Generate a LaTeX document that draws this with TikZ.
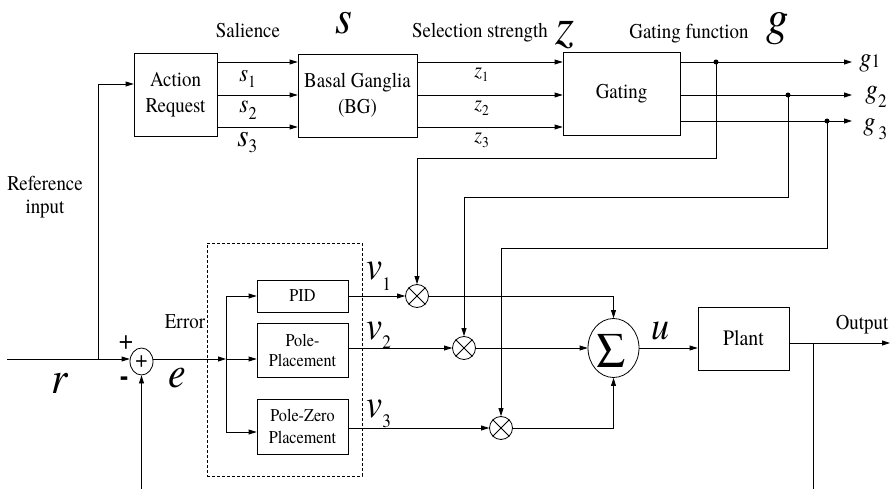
\documentclass[tikz,border=0pt]{standalone}
\usepackage{fontspec}
\usepackage{graphicx}
\setmainfont{texgyretermes}[Extension=.otf, UprightFont=*-regular,
  ItalicFont=*-italic, BoldFont=*-bold, BoldItalicFont=*-bolditalic,
  FakeStretch=0.9]
\usetikzlibrary{arrows.meta,shapes.geometric}

% font size helper: size in pt, baselineskip in pt
\newcommand\fsz[2]{\fontsize{#1}{#2}\selectfont}
% italic letter with a lowered subscript: letter size, letter, subscript size, subscript, drop
\newcommand\ml[5]{{\fsz{#1}{#1}\itshape #2}{\fsz{#3}{#3}\raisebox{-#5pt}{#4}}}

\tikzset{
  blk/.style={draw, inner sep=0pt, align=center, font=\fsz{21}{26}},
  smallblk/.style={blk, font=\fsz{18}{20}},
  mult/.style={circle, draw, minimum size=23pt, inner sep=0pt},
  txt/.style={inner sep=0pt, align=center, font=\fsz{21}{24}},
  big/.style={inner sep=0pt, anchor=base},
  lbl/.style={inner sep=0pt, anchor=base west},
  dot/.style={circle, fill, inner sep=0pt, minimum size=5pt},
}

\begin{document}
\begin{tikzpicture}[x=1pt, y=-1pt, line width=0.8pt,
    >={Triangle[length=8pt,width=5pt]}]
\useasboundingbox (0,0) rectangle (895,489);

% ---------------- upper chain: action selection ----------------
\node[blk, minimum width=83pt, minimum height=83pt] (ar) at (175.5,94.5) {Action\\Request};
\node[blk, minimum width=119pt, minimum height=83pt] (bg) at (357.5,95.5) {Basal Ganglia\\(BG)};
\node[blk, minimum width=117pt, minimum height=83pt] (gt) at (621.5,93.5) {Gating};

\coordinate (ya) at (0,62);
\coordinate (yb) at (0,95);
\coordinate (yc) at (0,127);
\coordinate (yg) at (0,121);
\coordinate (gend) at (852,0);

\draw[->] (ar.east |- ya) -- (bg.west |- ya);
\draw[->] (ar.east |- yb) -- (bg.west |- yb);
\draw[->] (ar.east |- yc) -- (bg.west |- yc);
\draw[->] (bg.east |- ya) -- (gt.west |- ya);
\draw[->] (bg.east |- yb) -- (gt.west |- yb);
\draw[->] (bg.east |- yc) -- (gt.west |- yc);
\draw[->] (gt.east |- ya) -- (gend |- ya);
\draw[->] (gt.east |- yb) -- (gend |- yb);
\draw[->] (gt.east |- yg) -- (gend |- yg);

% headings
\node[txt, anchor=base] (tsal) at (248,38) {Salience};
\node[big, font=\fsz{48}{48}\itshape] (ts) at (344,34) {s};
\node[txt, anchor=base] (tsel) at (480,38) {Selection strength};
\node[big, font=\fsz{54}{54}\itshape] (tz) at (565,45) {z};
\node[txt, anchor=base] (tgf) at (689,39) {Gating function};
\node[big, font=\fsz{50}{50}\itshape] (tg) at (778,35) {g};

% signal labels
\node[lbl] (ls1) at (239,82) {\ml{25}{s}{17}{1}{6}};
\node[lbl] (ls2) at (239,113) {\ml{26}{s}{18}{2}{7}};
\node[lbl] (ls3) at (237,147) {\ml{32}{s}{19}{3}{6}};
\node[lbl] (lz1) at (474,78) {\ml{22}{z}{14}{1}{4}};
\node[lbl] (lz2) at (474,111) {\ml{22}{z}{15}{2}{5}};
\node[lbl] (lz3) at (474,143) {\ml{22}{z}{15}{3}{5}};
\node[lbl] (lg1) at (859,67) {\ml{27}{g}{19}{1}{1}};
\node[lbl] (lg2) at (865,99) {\ml{28}{g}{19}{2}{9}};
\node[lbl] (lg3) at (863,131) {\ml{27}{g}{19}{\,3}{9}};

% ---------------- lower loop: control ----------------
\node[txt, font=\fsz{21}{23}] (tref) at (45,197) {Reference\\input};

\node[ellipse, draw, minimum width=23pt, minimum height=27pt, inner sep=0pt,
      font=\fsz{24}{24}] (sj) at (141.5,361.5) {+};
\coordinate (rin) at (7,359);
\coordinate (rbr) at (98,359);
\coordinate (ry) at (0,84);
\draw[->] (rin) -- (sj.west |- rin);
\draw[->] (rbr) |- (ar.west |- ry);
\coordinate (fbl) at (141.5,489);
\draw[->] (fbl) -- (sj.south);

\node[big, font=\fsz{46}{46}\itshape] (tr) at (60,393) {r};
\node[txt, font=\fsz{28}{28}] (tplus) at (126,343) {+};
\node[txt, font=\fsz{30}{30}\bfseries] (tminus) at (124,381) {-};
\node[big, font=\fsz{44}{44}\itshape] (te) at (177,388) {e};
\node[txt, anchor=base] (terr) at (185,328) {Error};

% controller bank
\node[draw, dash pattern=on 3pt off 2pt, line width=0.6pt, minimum width=155pt,
      minimum height=233pt, inner sep=0pt] (ctrl) at (284.5,359.5) {};
\node[smallblk, minimum width=91pt, minimum height=32pt] (pid) at (302.5,296) {PID};
\node[smallblk, minimum width=91pt, minimum height=54pt] (pp) at (302.5,350) {Pole-\\Placement};
\node[smallblk, font=\fsz{18}{22}, minimum width=91pt, minimum height=55pt] (pz) at (302.5,426.5) {Pole-Zero\\Placement};

\coordinate (eb) at (226,359);
\coordinate (ypz) at (0,432);
\draw[->] (sj.east |- eb) -- (eb);
\draw[->] (eb) |- (pid.west);
\draw[->] (eb) -- (pp.west |- eb);
\draw[->] (eb) |- (pz.west |- ypz);

% gating multipliers
\node[mult] (m1) at (417,296) {};
\node[mult] (m2) at (464,348) {};
\node[mult] (m3) at (501,428) {};
\foreach \m in {m1,m2,m3}{
  \draw (\m.north east) -- (\m.south west) (\m.north west) -- (\m.south east);
}

\draw[->] (pid.east) -- (m1.west);
\draw[->] (pp.east |- m2) -- (m2.west);
\draw[->] (pz.east |- m3) -- (m3.west);

\node[lbl] (lv1) at (366,280) {\ml{40}{v}{19}{1}{10}};
\node[lbl] (lv2) at (366,340) {\ml{40}{v}{19}{2}{9}};
\node[lbl] (lv3) at (366,417) {\ml{40}{v}{19}{3}{10}};

% gating signals fed back to the multipliers
\node[dot] (d1) at (716,62) {};
\node[dot] (d2) at (788,95) {};
\node[dot] (d3) at (827,121) {};
\coordinate (h1) at (0,158);
\coordinate (h2) at (0,197);
\coordinate (h3) at (0,248);
\draw[->] (d1.center) -- (d1 |- h1) -| (m1.north);
\draw[->] (d2.center) -- (d2 |- h2) -| (m2.north);
\draw[->] (d3.center) -- (d3 |- h3) -| (m3.north);

% summation and plant
\node[ellipse, draw, minimum width=51pt, minimum height=59pt, inner sep=0pt] (sum) at (613.5,348) {};
\node[txt, font=\fsz{50}{50}] (sig) at (611,351) {Σ};
\draw[->] (m1.east) -| (sum.north);
\draw[->] (m2.east) -- (sum.west);
\draw[->] (m3.east) -| (sum.south);

\node[blk, font=\fsz{22}{26}, minimum width=91pt, minimum height=63pt] (plant) at (743.5,338.5) {Plant};
\draw[->] (sum.east) -- (plant.west |- sum);
\node[big, font=\fsz{40}{40}\itshape] (tu) at (660,340) {u};

\coordinate (yo) at (0,343);
\coordinate (oend) at (890,343);
\coordinate (fbr) at (813,343);
\coordinate (fbrb) at (813,489);
\draw[->] (plant.east |- yo) -- (oend);
\draw (fbr) -- (fbrb);
\node[txt, anchor=base] (tout) at (862,330) {Output};

\end{tikzpicture}
\end{document}
